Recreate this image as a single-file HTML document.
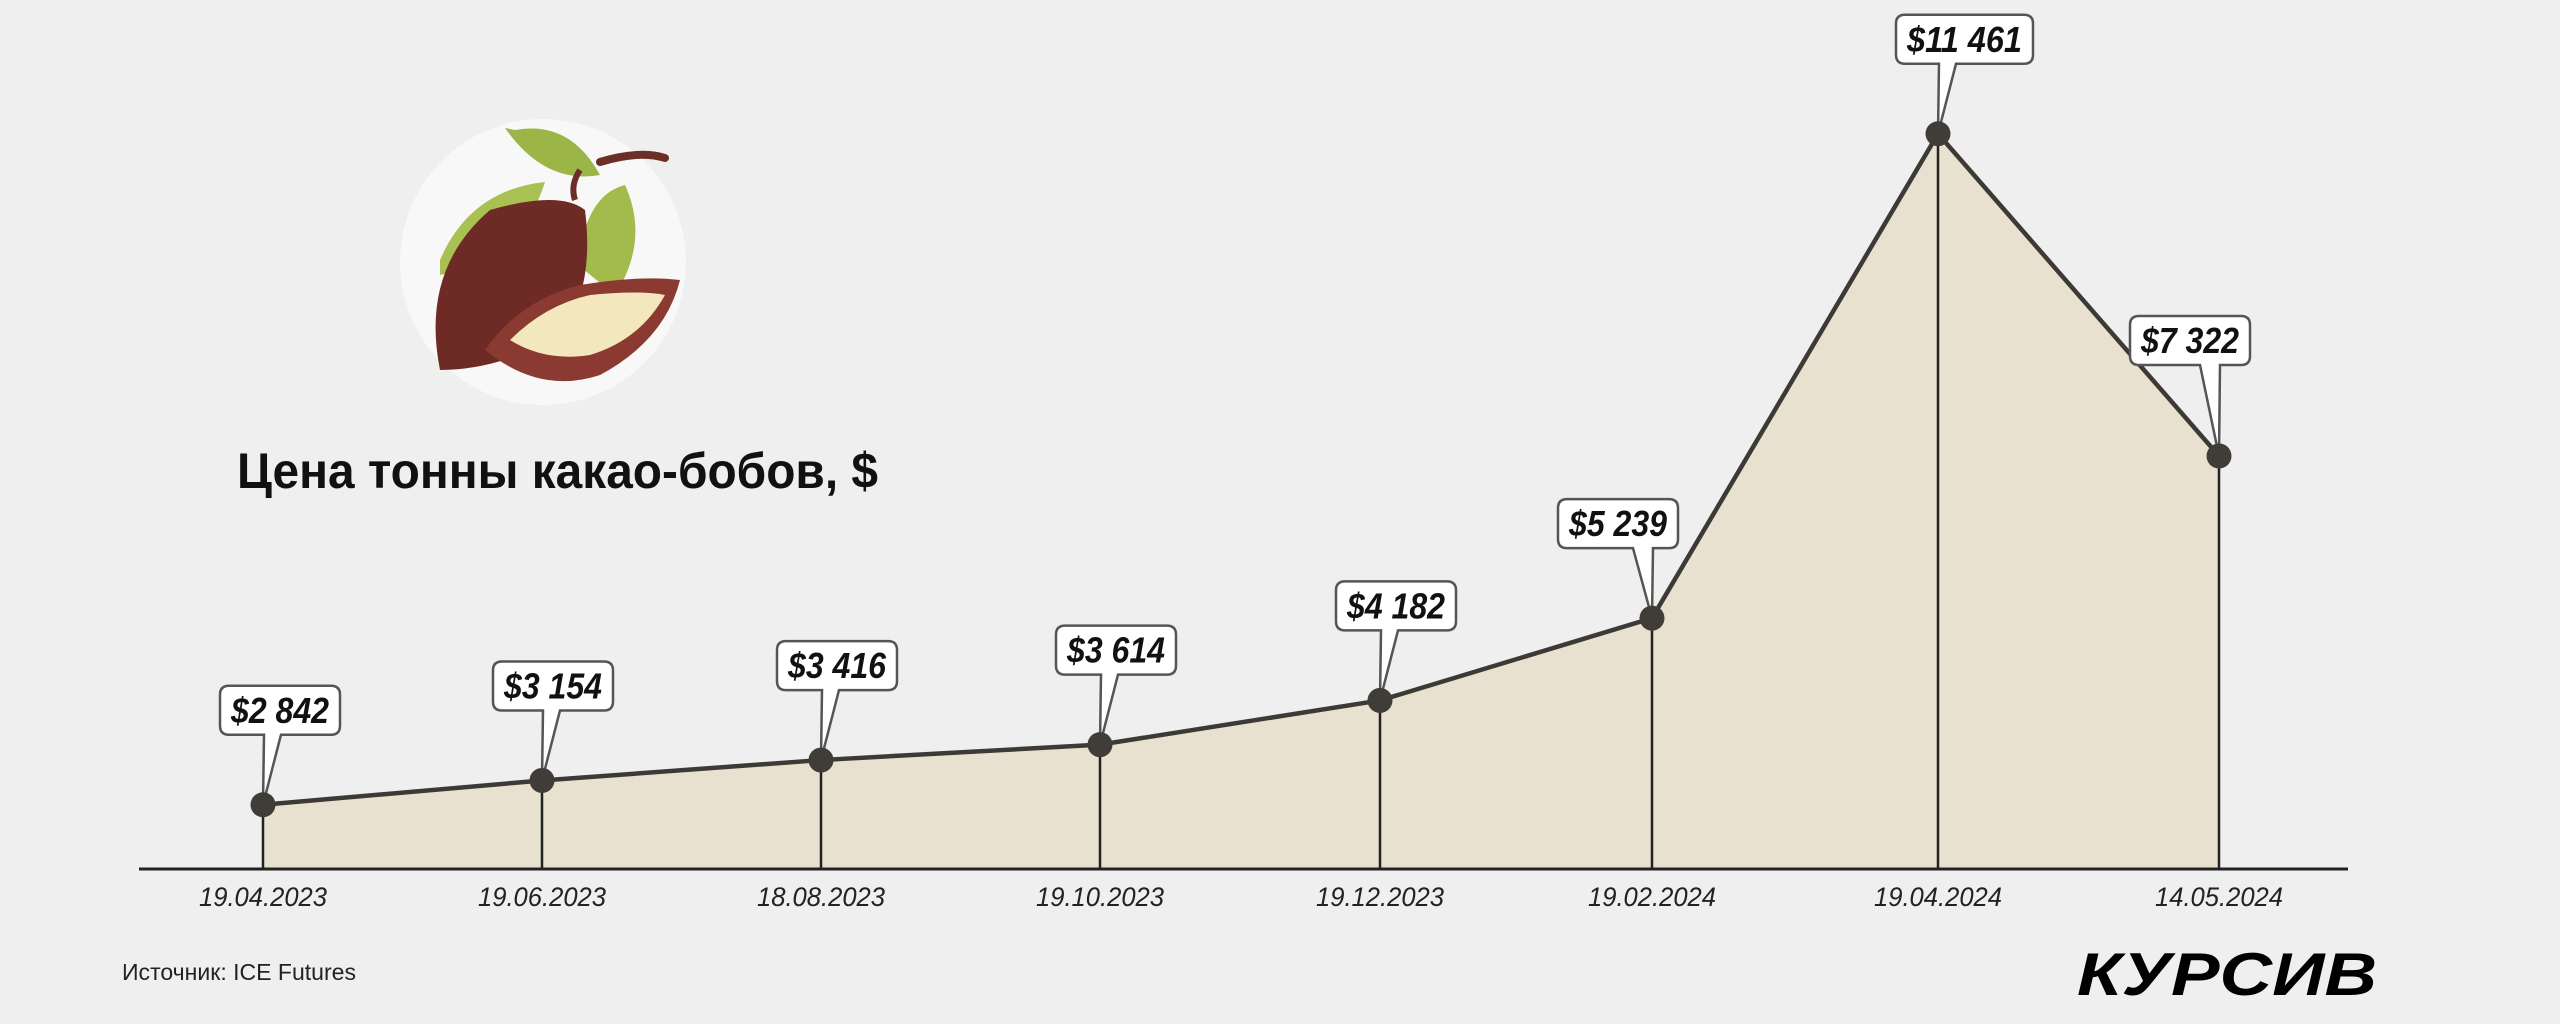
<!DOCTYPE html>
<html><head><meta charset="utf-8">
<style>
html,body{margin:0;padding:0;background:#efefef;}
svg{display:block;}
</style></head>
<body>
<svg id="chart" width="2560" height="1024" viewBox="0 0 2560 1024" xmlns="http://www.w3.org/2000/svg">
  <rect width="2560" height="1024" fill="#efefef"/>
  <g>
    <circle cx="543" cy="262" r="143" fill="#f8f8f8"/>
    <path d="M600 162 Q640 150 665 158" stroke="#6b2f27" stroke-width="8" fill="none" stroke-linecap="round"/>
    <path d="M515 130 Q570 120 600 175 Q545 185 505 128 Z" fill="#9bb547"/>
    <path d="M440 260 Q470 190 545 182 Q520 260 440 275 Z" fill="#a9c052"/>
    <path d="M578 265 Q585 195 625 185 Q650 240 615 295 Z" fill="#a3bb4c"/>
    <path d="M580 170 Q570 185 575 200" stroke="#6b2f27" stroke-width="6" fill="none"/>
    <path d="M440 370 Q420 270 490 210 Q560 190 585 210 Q595 290 560 335 Q500 370 440 370 Z" fill="#6e2b25"/>
    <path d="M485 350 Q520 300 580 285 Q640 275 680 280 Q665 340 600 375 Q540 395 485 350 Z" fill="#8a3a30"/>
    <path d="M510 340 Q545 305 590 295 Q640 290 665 295 Q640 340 590 355 Q545 362 510 340 Z" fill="#f3e7bd"/>
  </g>
  <text x="237" y="488" font-family="Liberation Sans, sans-serif" font-weight="bold" font-size="50" fill="#111" textLength="641" lengthAdjust="spacingAndGlyphs">Цена тонны какао-бобов, $</text>
  <g id="plot"></g>
  <text x="122" y="980" font-family="Liberation Sans, sans-serif" font-size="23" fill="#222" textLength="234" lengthAdjust="spacingAndGlyphs">Источник: ICE Futures</text>
  <text x="2077" y="995" font-family="Liberation Sans, sans-serif" font-weight="bold" font-style="italic" font-size="60" fill="#000" textLength="300" lengthAdjust="spacingAndGlyphs">КУРСИВ</text>
</svg>
<script>
const dates = ["19.04.2023","19.06.2023","18.08.2023","19.10.2023","19.12.2023","19.02.2024","19.04.2024","14.05.2024"];
const prices = [2842,3154,3416,3614,4182,5239,11461,7322];
const priceLabels = ["$2 842","$3 154","$3 416","$3 614","$4 182","$5 239","$11 461","$7 322"];

const xPos = [263,542,821,1100,1380,1652,1938,2219];
const boxDx = [-43,-49,-44,-44,-44,-94,-42,-89];
const tailLeft = [true,true,true,true,true,false,true,false];
const NS = "http://www.w3.org/2000/svg";
const g = document.getElementById('plot');
const baseY = 869;
function yScale(v){ return 1026 - v*0.07785; }
function xScale(i){ return xPos[i]; }
function mk(tag, attrs){ const e=document.createElementNS(NS,tag); for(const k in attrs) e.setAttribute(k,attrs[k]); g.appendChild(e); return e; }

let d = "M"+xScale(0)+" "+baseY;
prices.forEach((v,i)=>{ d += " L"+xScale(i)+" "+yScale(v); });
d += " L"+xScale(prices.length-1)+" "+baseY+" Z";
const area = mk('path',{d:d,fill:"#e9e1cf"});



const axis = mk('line',{x1:139,y1:baseY,x2:2348,y2:baseY,stroke:"#222","stroke-width":3});



prices.forEach((v,i)=>{
  const l = mk('line',{x1:xScale(i),y1:yScale(v),x2:xScale(i),y2:baseY,stroke:"#222","stroke-width":2.5});
  
  
});

const pts = prices.map((v,i)=>xScale(i)+","+yScale(v)).join(" ");
const line = mk('polyline',{points:pts,fill:"none",stroke:"#3d3a36","stroke-width":4.5,"stroke-linejoin":"round"});



prices.forEach((v,i)=>{
  const px = xScale(i), py = yScale(v);
  const w = priceLabels[i].length*17 + 18, h = 49;
  const top = (i===7) ? py-140 : py-119;
  const left = px + boxDx[i];
  const bottom = top + h;
  const t1 = tailLeft[i] ? px+1 : px-19;
  const t2 = tailLeft[i] ? px+18 : px+1;
  const box = mk('path',{d:`M${left+9} ${top} H${left+w-9} Q${left+w} ${top} ${left+w} ${top+9} V${bottom-9} Q${left+w} ${bottom} ${left+w-9} ${bottom} H${t2} L${px} ${py} L${t1} ${bottom} H${left+9} Q${left} ${bottom} ${left} ${bottom-9} V${top+9} Q${left} ${top} ${left+9} ${top} Z`,fill:"#fff",stroke:"#555","stroke-width":2.5});
  
  
  const t = mk('text',{x:left+w/2,y:top+37,"text-anchor":"middle","font-family":"Liberation Sans, sans-serif","font-weight":"bold","font-style":"italic","font-size":36,fill:"#111",textLength:w-22,lengthAdjust:"spacingAndGlyphs"});
  t.textContent = priceLabels[i];
  
  
  const c = mk('circle',{cx:px,cy:py,r:12.5,fill:"#403d38"});
  
  
  const dl = mk('text',{x:px,y:906,"text-anchor":"middle","font-family":"Liberation Sans, sans-serif","font-style":"italic","font-size":27,fill:"#222",textLength:128,lengthAdjust:"spacingAndGlyphs"});
  dl.textContent = dates[i];
  
  
});
</script>
</body></html>
